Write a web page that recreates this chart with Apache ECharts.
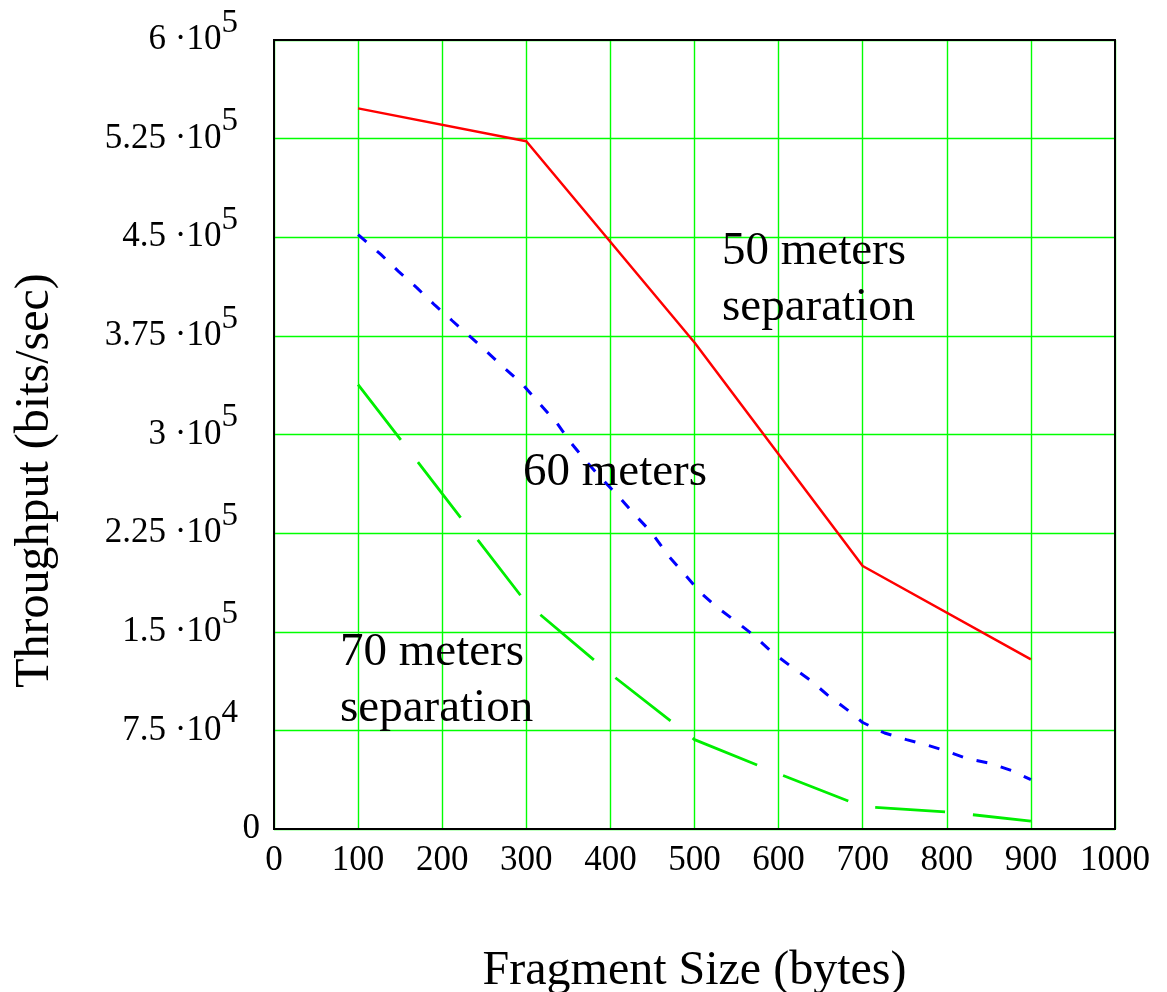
<!DOCTYPE html>
<html><head><meta charset="utf-8">
<script src="https://cdn.jsdelivr.net/npm/echarts@6/dist/echarts.min.js"></script>
<style>html,body{margin:0;padding:0;background:#fff}#c{width:1167px;height:992px}</style>
</head><body><div id="c"></div>
<script>
// ---- data ----
const xTickLabels = ['0','100','200','300','400','500','600','700','800','900','1000'];
const yMantissa = ['0','7.5','1.5','2.25','3','3.75','4.5','5.25','6'];
const yExponent = ['','4','5','5','5','5','5','5','5'];
const sep50 = [[100,548000],[300,523000],[500,370000],[700,200000],[900,129000]];
const sep60 = [[100,452000],[127,437000],[148,424000],[170,411500],[191,398500],[212,386500],[234,374000],[253,363000],[274,350500],[295,338500],[315,324000],[336,309000],[352,294500],[372,279000],[391,265500],[411,252000],[429,239000],[449,225500],[468,208500],[488,194000],[506,180500],[526,169000],[550,157500],[569,148000],[593,134000],[615,123500],[637,113500],[658,102000],[681,91000],[700,81000],[726,73000],[752,68000],[778,63500],[801,59000],[824,53500],[851,50000],[877,44500],[900,37500]];
const sep70 = [[100,338000],[300,172000],[400,118000],[500,68000],[600,42000],[700,17000],[800,13000],[900,6000]];
const labels = ['50 meters\nseparation','60 meters','70 meters\nseparation'];

const FONT = '"Liberation Serif","Times New Roman",serif';
const chart = echarts.init(document.getElementById('c'));
chart.setOption({
  animation:false,
  backgroundColor:'#fff',
  grid:{left:274,right:52,top:40,bottom:163,show:false,outerBoundsMode:'none',containLabel:false},
  xAxis:{type:'value',min:0,max:1000,interval:100,
    name:'Fragment Size (bytes)',nameLocation:'middle',nameGap:118,
    nameTextStyle:{fontFamily:FONT,fontSize:48,color:'#000'},
    axisLine:{show:false},axisTick:{show:false},
    splitLine:{show:true,lineStyle:{color:'#00ff00',width:1.4}},
    axisLabel:{fontFamily:FONT,fontSize:35,color:'#000',margin:14,showMinLabel:true,showMaxLabel:true,
      formatter:(v)=>xTickLabels[Math.round(v/100)]}},
  yAxis:{type:'value',min:0,max:600000,interval:75000,
    name:'Throughput (bits/sec)',nameLocation:'middle',nameGap:215,nameRotate:90,
    nameTextStyle:{fontFamily:FONT,fontSize:48,color:'#000',padding:[0,92,0,0]},
    axisLine:{show:false},axisTick:{show:false},
    splitLine:{show:true,lineStyle:{color:'#00ff00',width:1.4}},
    axisLabel:{margin:14,showMinLabel:true,showMaxLabel:true,
      formatter:(v)=>{const i=Math.round(v/75000); if(i===0) return '{z|'+yMantissa[0]+'}';
        return '{m|'+yMantissa[i]+' ·10}{e|'+yExponent[i]+'}';},
      rich:{
        z:{fontFamily:FONT,fontSize:35,color:'#000',lineHeight:35},
        m:{fontFamily:FONT,fontSize:35,color:'#000',lineHeight:35},
        e:{fontFamily:FONT,fontSize:33,color:'#000',lineHeight:35,padding:[0,22,34,0]}
      }}},
  series:[
    {type:'line',data:sep50,symbol:'none',lineStyle:{color:'#ff0000',width:2.5},z:3},
    {type:'line',data:sep60,symbol:'none',lineStyle:{color:'#0000ff',width:3,type:[11,14]},z:3},
    {type:'line',data:sep70,symbol:'none',lineStyle:{color:'#00ee00',width:2.8,type:[70,28]},z:3}
  ],
  graphic:[
    {type:'text',left:722,top:224,z:10,style:{text:labels[0],font:'47px '+FONT,fill:'#000',lineHeight:56}},
    {type:'text',left:523,top:445,z:10,style:{text:labels[1],font:'47px '+FONT,fill:'#000',lineHeight:56}},
    {type:'text',left:340,top:625,z:10,style:{text:labels[2],font:'47px '+FONT,fill:'#000',lineHeight:56}}
  ]
});
// black frame around the plot area, derived from the axis extents
const pA = chart.convertToPixel({gridIndex:0},[0,0]);
const pB = chart.convertToPixel({gridIndex:0},[1000,600000]);
chart.setOption({graphic:[{type:'rect',id:'frame',z:5,silent:true,
  shape:{x:pA[0],y:pB[1],width:pB[0]-pA[0],height:pA[1]-pB[1]},
  style:{fill:'none',stroke:'#000',lineWidth:2}}]});
</script></body></html>
